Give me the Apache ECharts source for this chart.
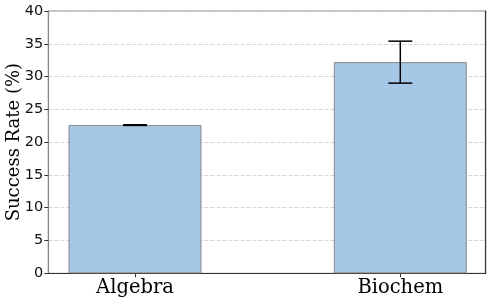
<!DOCTYPE html>
<html>
<head>
<meta charset="utf-8">
<script src="https://cdn.jsdelivr.net/npm/echarts@6/dist/echarts.min.js"></script>
<style>html,body{margin:0;padding:0;background:#fff;}#c{width:493px;height:306px;}</style>
</head>
<body>
<div id="c"></div>
<script>
const categories = ['Algebra', 'Biochem'];
const successRate = [22.6, 32.2];
const errorBars = [0.05, 3.2];
const yTicks = [0, 5, 10, 15, 20, 25, 30, 35, 40];

const chart = echarts.init(document.getElementById('c'), null, {renderer: 'canvas'});
const positions = categories.map((c, i) => i);
const barData = positions.map((p, i) => [p, successRate[i]]);
const errData = positions.map((p, i) => [p, successRate[i] - errorBars[i], successRate[i] + errorBars[i]]);

chart.setOption({
  animation: false,
  backgroundColor: '#fff',
  grid: {left: 48.3, right: 7.3, top: 11, bottom: 32.7, show: true, borderColor: '#888', borderWidth: 1, containLabel: false, outerBoundsMode: 'none'},
  xAxis: {
    type: 'value', min: -0.3268, max: 1.3219,
    axisLine: {show: true, onZero: false, lineStyle: {color: '#333', width: 1.2}},
    axisTick: {show: true, customValues: positions, length: 4, lineStyle: {color: '#333'}},
    axisLabel: {show: true, customValues: positions, formatter: v => categories[Math.round(v)] || '', fontFamily: 'DejaVu Serif', fontSize: 19.5, color: '#000', margin: 5},
    splitLine: {show: false}
  },
  yAxis: [{
    type: 'value', min: 0, max: 40, interval: 5,
    name: 'Success Rate (%)', nameLocation: 'middle', nameGap: 25, nameMoveOverlap: false,
    nameTextStyle: {fontFamily: 'DejaVu Serif', fontSize: 18, color: '#000'},
    axisLine: {show: true, onZero: false, lineStyle: {color: '#888', width: 1.2}},
    axisTick: {show: true, length: 4, lineStyle: {color: '#333'}},
    axisLabel: {fontFamily: 'DejaVu Sans', fontSize: 14.5, color: '#111', margin: 5,
      formatter: v => yTicks.includes(v) ? String(v) : ''},
    splitLine: {show: true, lineStyle: {type: [4, 2], color: '#ccc', width: 0.8}}
  }, {
    type: 'value', min: 0, max: 40, position: 'right',
    axisLine: {show: true, onZero: false, lineStyle: {color: '#333', width: 1.2}},
    axisTick: {show: false}, axisLabel: {show: false}, splitLine: {show: false}
  }],
  series: [{
    type: 'bar',
    data: barData,
    barWidth: 133,
    itemStyle: {color: '#a7c7e7', borderColor: '#888', borderWidth: 1}
  }, {
    type: 'custom',
    data: errData,
    z: 10,
    renderItem: function (params, api) {
      const x = api.value(0);
      const lo = api.coord([x, api.value(1)]);
      const hi = api.coord([x, api.value(2)]);
      const hw = 12;
      const style = {stroke: '#000', lineWidth: 1.5};
      return {type: 'group', children: [
        {type: 'line', shape: {x1: lo[0], y1: lo[1], x2: hi[0], y2: hi[1]}, style},
        {type: 'line', shape: {x1: lo[0] - hw, y1: lo[1], x2: lo[0] + hw, y2: lo[1]}, style},
        {type: 'line', shape: {x1: hi[0] - hw, y1: hi[1], x2: hi[0] + hw, y2: hi[1]}, style}
      ]};
    }
  }]
});
</script>
</body>
</html>
